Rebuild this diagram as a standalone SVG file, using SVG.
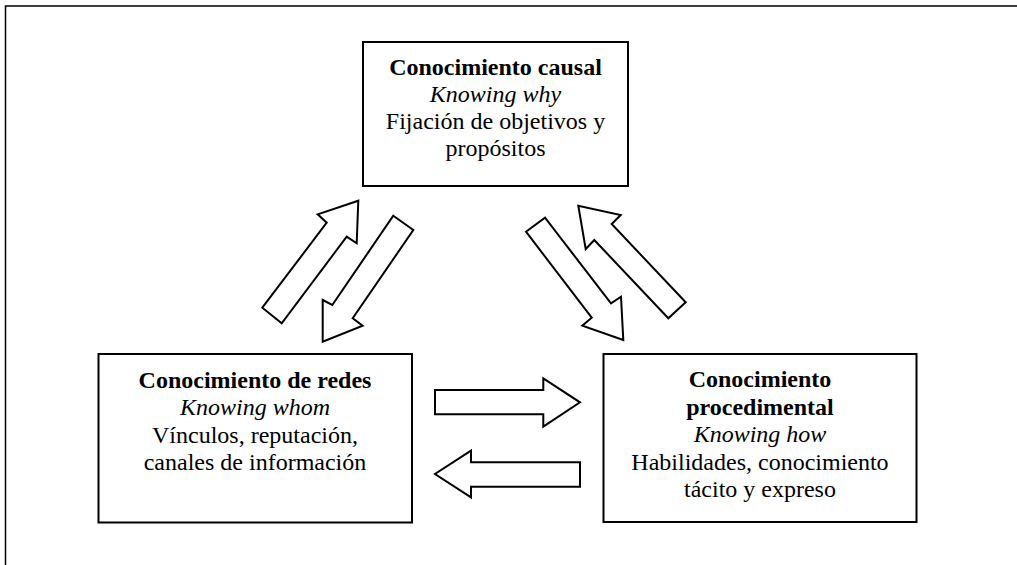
<svg xmlns="http://www.w3.org/2000/svg" width="1017" height="565" viewBox="0 0 1017 565">
<style>
.box{fill:#fff;stroke:#000;stroke-width:2}
.arr{fill:#fff;stroke:#000;stroke-width:2;stroke-linejoin:miter}
.t text{font-size:24px;fill:#000;text-anchor:middle}
.b{font-weight:bold}
.i{font-style:italic}
</style>
<rect width="1017" height="565" fill="#fff"/>
<path d="M5.5 565 V6 H1017" fill="none" stroke="#000" stroke-width="1.5"/>
<g id="causal" class="t" font-family="Liberation Serif, Tinos, Times New Roman, DejaVu Serif, serif">
<rect class="box" x="363" y="42" width="265" height="144"/>
<text class="b" x="495.5" y="75">Conocimiento causal</text>
<text class="i" x="495.5" y="102">Knowing why</text>
<text x="495.5" y="129">Fijación de objetivos y</text>
<text x="495.5" y="156">propósitos</text>
</g>
<g id="redes" class="t" font-family="Liberation Serif, Tinos, Times New Roman, DejaVu Serif, serif">
<rect class="box" x="98.5" y="354" width="313.5" height="168.5"/>
<text class="b" x="255" y="387.5">Conocimiento de redes</text>
<text class="i" x="255" y="415">Knowing whom</text>
<text x="255" y="442.5">Vínculos, reputación,</text>
<text x="255" y="470">canales de información</text>
</g>
<g id="procedimental" class="t" font-family="Liberation Serif, Tinos, Times New Roman, DejaVu Serif, serif">
<rect class="box" x="603.5" y="354" width="313" height="168"/>
<text class="b" x="760" y="387">Conocimiento</text>
<text class="b" x="760" y="414.5">procedimental</text>
<text class="i" x="760" y="442">Knowing how</text>
<text x="760" y="469.5">Habilidades, conocimiento</text>
<text x="760" y="497">tácito y expreso</text>
</g>
<g id="connectors">
<polygon class="arr" points="262.3,307.7 326.7,222.7 317.7,214.3 358.3,200.7 356.7,243.3 346.7,236.7 281.7,323.3"/>
<polygon class="arr" points="393.3,215.7 413.3,230 352.7,318.3 362.7,325.7 322.7,341.7 322.7,300 332.3,305"/>
<polygon class="arr" points="526,231.7 545,217.7 611,303.3 621,296.7 623.3,340 582.3,325.7 591.7,317.7"/>
<polygon class="arr" points="685.7,302.3 668.3,318.3 594.3,240 585.7,249 578.3,205.7 620.7,215 611.7,224"/>
<polygon class="arr" points="435,390 543.3,390 543.3,378.3 580,402.3 543.3,426.7 543.3,414.3 435,414.3"/>
<polygon class="arr" points="580,462.3 471,462.3 471,450.7 435,474 471,497.3 471,486.7 580,486.7"/>
</g>
</svg>
